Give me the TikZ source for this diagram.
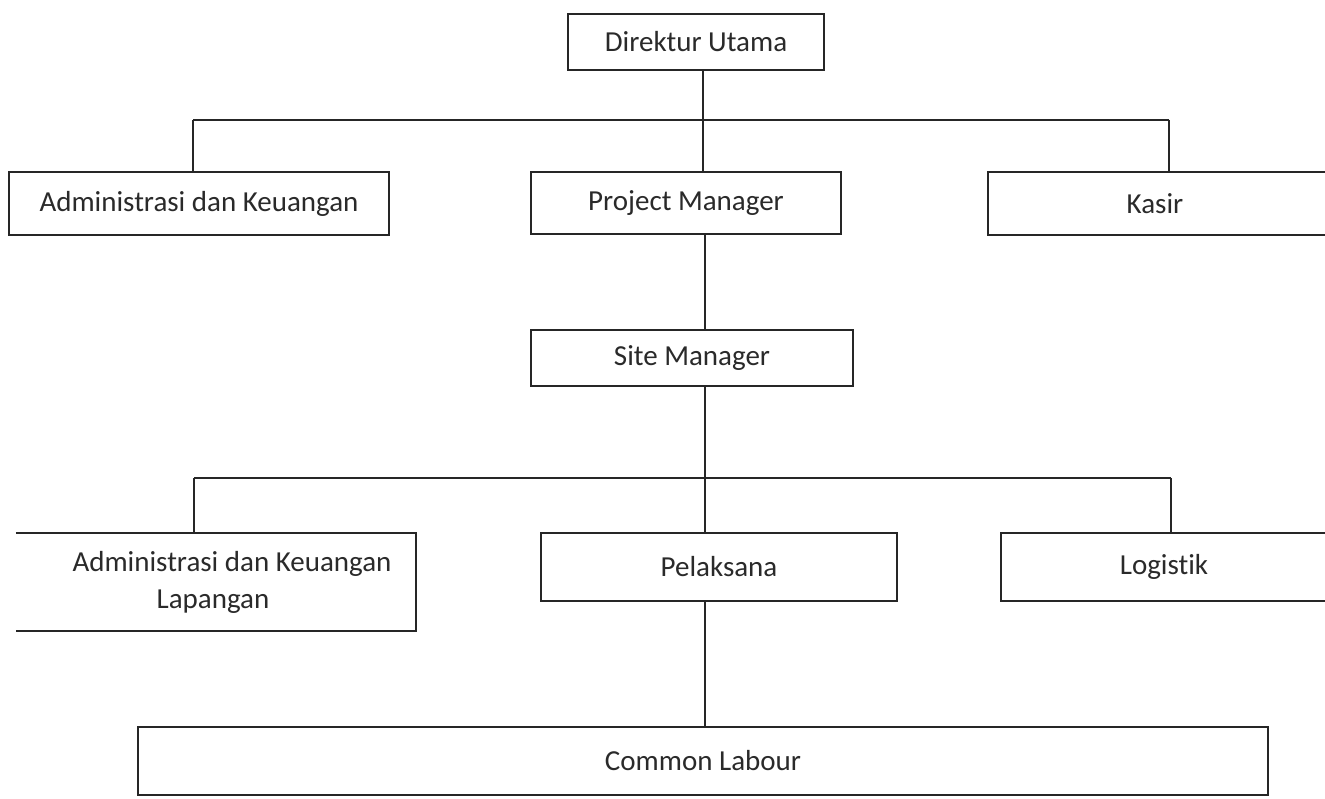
\documentclass[tikz,border=0pt]{standalone}
\usepackage{fontspec}
\setmainfont{Carlito}[Ligatures=NoCommon]
\definecolor{ink}{HTML}{262626}
\definecolor{txt}{HTML}{2A2A2A}
\begin{document}
\begin{tikzpicture}[x=1pt,y=-1pt,
  box/.style={draw=ink, line width=1.9pt, rectangle, inner sep=0pt, fill=white},
  lbl/.style={text=txt, inner sep=0pt, font=\fontsize{29}{37}\selectfont},
  conn/.style={draw=ink, line width=1.7pt}]
\useasboundingbox (0,0) rectangle (1325,799);
\fill[white] (0,0) rectangle (1325,799);

% level 1
\node[box, lbl, minimum width=256pt, minimum height=56pt] (dir) at (696,42) {Direktur Utama};

% level 2
\node[box, lbl, minimum width=380pt, minimum height=63pt] (adm) at (199,203.5) {Administrasi dan Keuangan};
\node[box, lbl, minimum width=310pt, minimum height=62pt] (pm) at (686,203) {Project Manager};
\node[box, minimum width=342pt, minimum height=63pt] (kasir) at (1159,203.5) {};
\node[lbl] (kasirT) at (1155,203.5) {Kasir};

% level 3
\node[box, lbl, minimum width=322pt, minimum height=56pt] (site) at (692,358) {Site Manager};

% level 4
\node[inner sep=0pt, minimum width=400pt, minimum height=98pt] (adml) at (216,582) {};
\draw[conn, line width=1.9pt] (adml.north west) -- (adml.north east) -- (adml.south east) -- (adml.south west);
\node[lbl, align=center] (admlT) at (232,582) {Administrasi dan Keuangan\\Lapangan\hspace*{38pt}};
\node[box, lbl, minimum width=356pt, minimum height=68pt] (pel) at (719,567) {Pelaksana};
\node[box, minimum width=329pt, minimum height=68pt] (log) at (1165.5,567) {};
\node[lbl] (logT) at (1164,567) {Logistik};

% level 5
\node[box, lbl, minimum width=1130pt, minimum height=68pt] (cl) at (703,761) {Common Labour};

% connectors
\coordinate (b1) at (703,120);
\coordinate (b1l) at (193,120);
\coordinate (b1r) at (1169,120);
\draw[conn] (b1l) -- (b1r);
\draw[conn] (dir.south -| b1) -- (pm.north -| b1);
\draw[conn] (b1l) -- (adm.north -| b1l);
\draw[conn] (b1r) -- (kasir.north -| b1r);

\coordinate (b2) at (705,478);
\coordinate (b2l) at (194,478);
\coordinate (b2r) at (1171,478);
\draw[conn] (pm.south -| b2) -- (site.north -| b2);
\draw[conn] (site.south -| b2) -- (pel.north -| b2);
\draw[conn] (b2l) -- (b2r);
\draw[conn] (b2l) -- (adml.north -| b2l);
\draw[conn] (b2r) -- (log.north -| b2r);
\draw[conn] (pel.south -| b2) -- (cl.north -| b2);
\end{tikzpicture}
\end{document}
